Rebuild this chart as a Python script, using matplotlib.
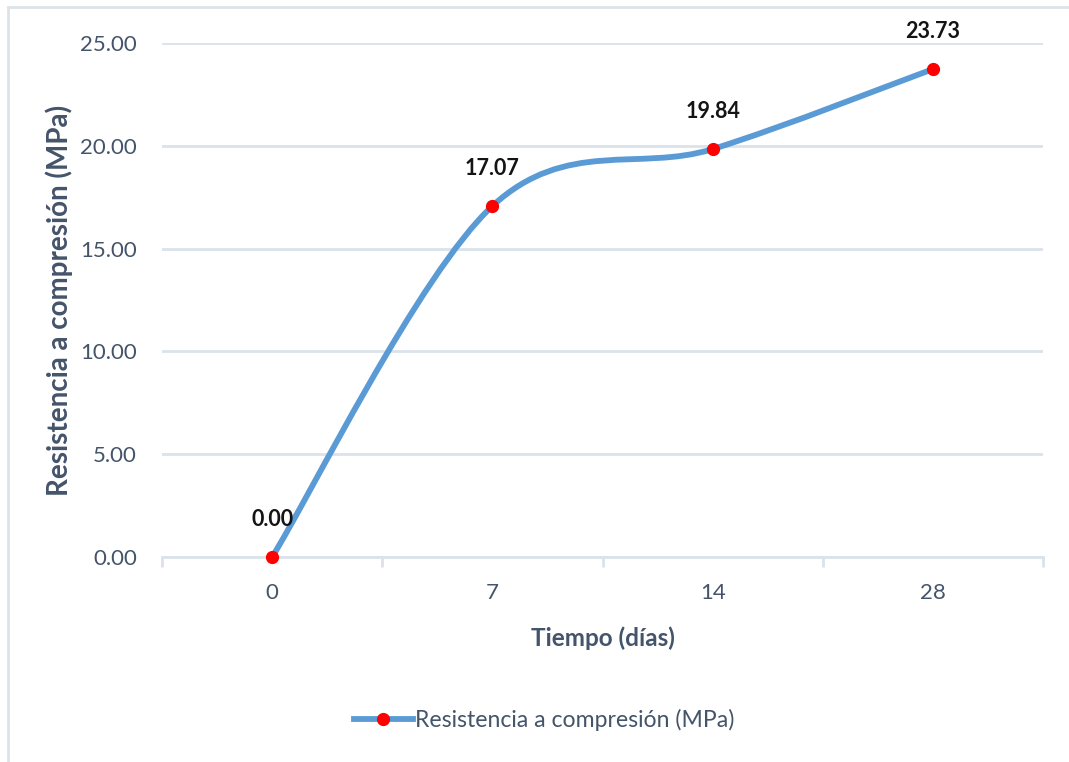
import numpy as np
import matplotlib
matplotlib.use("Agg")
import matplotlib.pyplot as plt
from matplotlib.path import Path as MplPath
from matplotlib.patches import PathPatch, Rectangle
from matplotlib.lines import Line2D

# curing age (days) and compressive strength (MPa)
days = ["0", "7", "14", "28"]
strength = [0.00, 17.07, 19.84, 23.73]

series_label = "Resistencia a compresión (MPa)"
x_title = "Tiempo (días)"
y_title = "Resistencia a compresión (MPa)"

LINE = "#5B9BD5"
TEXT = "#44546A"
GRID = "#DCE2EA"

plt.rcParams["font.family"] = ["Lato", "DejaVu Sans"]


def smooth_path(xs, ys):
    """Office-style smoothed line: cubic Bezier segments with
    control points taken from neighbouring points (1/6 tension)."""
    pts = np.column_stack([xs, ys]).astype(float)
    padded = np.vstack([pts[0], pts, pts[-1]])
    verts = [pts[0]]
    codes = [MplPath.MOVETO]
    for i in range(len(pts) - 1):
        p0, p1, p2, p3 = padded[i], padded[i + 1], padded[i + 2], padded[i + 3]
        c1 = p1 + (p2 - p0) / 6.0
        c2 = p2 - (p3 - p1) / 6.0
        verts += [c1, c2, p2]
        codes += [MplPath.CURVE4] * 3
    return MplPath(verts, codes)


fig = plt.figure(figsize=(10.69, 7.62), dpi=100)
ax = fig.add_axes([162 / 1069, 1 - 557 / 762, 881 / 1069, 514 / 762])

x = np.arange(len(days))
ax.add_patch(PathPatch(smooth_path(x, strength), facecolor="none",
                       edgecolor=LINE, lw=4.2, capstyle="round", zorder=3))
ax.plot(x, strength, ls="none", marker="o", ms=8.5, mfc="#FF0000",
        mec="#FF0000", zorder=4, clip_on=False)

for xi, v in zip(x, strength):
    ax.annotate(f"{v:.2f}", (xi, v), xytext=(0, 27), textcoords="offset points",
                ha="center", va="center", fontsize=15.5, fontweight="bold",
                color="#141414", zorder=5)

ax.set_xlim(-0.5, len(days) - 0.5)
ax.set_ylim(0, 25)
ax.set_yticks(np.arange(0, 25.01, 5))
ax.set_yticklabels([f"{t:.2f}" for t in np.arange(0, 25.01, 5)])
ax.set_xticks(x)
ax.set_xticklabels(days)
ax.set_xticks(np.arange(-0.5, len(days), 1.0), minor=True)

for s in ["top", "right", "left"]:
    ax.spines[s].set_visible(False)
ax.spines["bottom"].set_color(GRID)
ax.spines["bottom"].set_linewidth(2)
ax.yaxis.grid(True, color=GRID, lw=2)
ax.set_axisbelow(True)

ax.tick_params(axis="y", length=0, pad=18, labelsize=16, labelcolor=TEXT)
ax.tick_params(axis="x", which="major", length=0, pad=19, labelsize=16,
               labelcolor=TEXT)
ax.tick_params(axis="x", which="minor", length=7, width=2, color=GRID,
               direction="out")

ax.set_xlabel(x_title, fontsize=17.5, fontweight="bold", color=TEXT, va="top")
ax.xaxis.set_label_coords(0.5, -0.136)
ax.set_ylabel(y_title, fontsize=20, fontweight="bold", color=TEXT)
ax.yaxis.set_label_coords(-0.101, 0.5)

handle = Line2D([], [], color=LINE, lw=4.2, marker="o", ms=8.5,
                mfc="#FF0000", mec="#FF0000")
leg = ax.legend([handle], [series_label], loc="center",
                bbox_to_anchor=(544 / 1069, 1 - 720 / 762),
                bbox_transform=fig.transFigure, frameon=False,
                fontsize=16.6, handlelength=2.55, handletextpad=0.1)
for t in leg.get_texts():
    t.set_color(TEXT)

# chart-area border (only its left and top edges fall inside the image)
fig.add_artist(Rectangle((8 / 1069, -0.1), 1.2, 1.1 - 7 / 762,
                         transform=fig.transFigure, fill=False,
                         edgecolor="#DDE2E8", lw=2))

fig.savefig("out.png", dpi=100)
